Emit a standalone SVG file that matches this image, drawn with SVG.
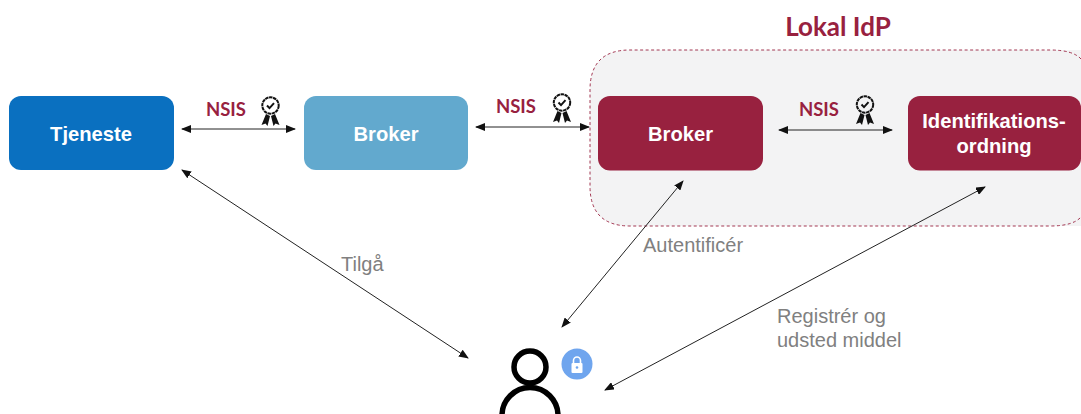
<svg xmlns="http://www.w3.org/2000/svg" width="1081" height="414" viewBox="0 0 1081 414">
<style>
.n{font:bold 20.2px "Liberation Sans",Arial,sans-serif;fill:#fff;text-anchor:middle}
.nsis{font:bold 18.5px Lato,"Liberation Sans",sans-serif;fill:#98213f;text-anchor:middle}
.l{font:20px "Liberation Sans",Arial,sans-serif;fill:#808080}
.c{stroke:#222;stroke-width:1;fill:none;marker-start:url(#a);marker-end:url(#a)}
.b{fill:none;stroke:#111;stroke-width:2}
</style>
<defs>
<marker id="a" viewBox="0 0 10 8" refX="9" refY="4" markerUnits="userSpaceOnUse" markerWidth="10" markerHeight="8" orient="auto-start-reverse"><path d="M0 0L10 4L0 8Z" fill="#111"/></marker>
<g id="badge"><circle cx="0" cy="-5.500" r="8.200" class="b" stroke-dasharray="3.500 .6"/><path d="M-3.500-5.500l2.500 2.600 4.500-5" class="b" stroke-width="1.500"/><path d="M-4.500 3L-9 14-5 12.500-3 15-.5 5ZM4.500 3L9 14 5 12.500 3 15 .5 5Z" fill="#111"/></g>
</defs>
<rect width="1081" height="414" fill="#fff"/>
<g id="lokal-idp">
<path d="M1081 50H630Q590 50 590 90V186Q590 226 630 226H1081" fill="#f3f3f4"/>
<path d="M1081 59Q1073 50 1050 50H630Q590 50 590 90V186Q590 226 630 226H1050Q1073 226 1081 217" fill="none" stroke="#98213f" stroke-width=".9" stroke-dasharray="3 2.500"/>
<text x="838" y="36" text-anchor="middle" style="font:bold 26px Lato,'Liberation Sans',sans-serif;fill:#98213f">Lokal IdP</text>
</g>
<g id="tjeneste"><rect x="9" y="96" width="165" height="74" rx="12" fill="#0a70c0"/><text class="n" x="91" y="141">Tjeneste</text></g>
<g id="broker-1"><rect x="304" y="96" width="164" height="74" rx="12" fill="#62a9ce"/><text class="n" x="386" y="141">Broker</text></g>
<g id="broker-2"><rect x="598" y="96" width="165" height="74.500" rx="12" fill="#98213f"/><text class="n" x="680.500" y="141">Broker</text></g>
<g id="identifikation"><rect x="908" y="96" width="173" height="74.500" rx="12" fill="#98213f"/><text class="n" x="994" y="128">Identifikations-</text><text class="n" x="994" y="153">ordning</text></g>
<g id="connectors">
<line class="c" x1="182" y1="129" x2="295" y2="129"/>
<line class="c" x1="476" y1="127" x2="589" y2="127"/>
<line class="c" x1="779" y1="130" x2="892" y2="130"/>
<line class="c" x1="182" y1="170" x2="468" y2="358"/>
<line class="c" x1="683" y1="181" x2="562" y2="327"/>
<line class="c" x1="985" y1="187" x2="605" y2="390"/>
</g>
<g id="labels">
<text class="nsis" x="226" y="115.500">NSIS</text><use href="#badge" x="270.500" y="111"/>
<text class="nsis" x="516" y="112.500">NSIS</text><use href="#badge" x="562" y="108"/>
<text class="nsis" x="819" y="115.500">NSIS</text><use href="#badge" x="865" y="110"/>
<text class="l" x="341" y="271">Tilgå</text>
<text class="l" x="643" y="252">Autentificér</text>
<text class="l" x="777" y="323">Registrér og</text>
<text class="l" x="777" y="347">udsted middel</text>
</g>
<g id="user">
<circle cx="530" cy="367" r="16" fill="none" stroke="#000" stroke-width="5.500"/>
<circle cx="530" cy="415.500" r="28" fill="none" stroke="#000" stroke-width="5.500"/>
<circle cx="577" cy="364" r="15.500" fill="#6fa5ee"/>
<rect x="571.500" y="363" width="11" height="10" rx="1" fill="#fff"/>
<path d="M573.500 363v-2.500a3.500 3.500 0 0 1 7 0v2.500" fill="none" stroke="#fff" stroke-width="1.600"/>
<circle cx="577" cy="367.500" r="1.300" fill="#6fa5ee"/>
</g>
</svg>
